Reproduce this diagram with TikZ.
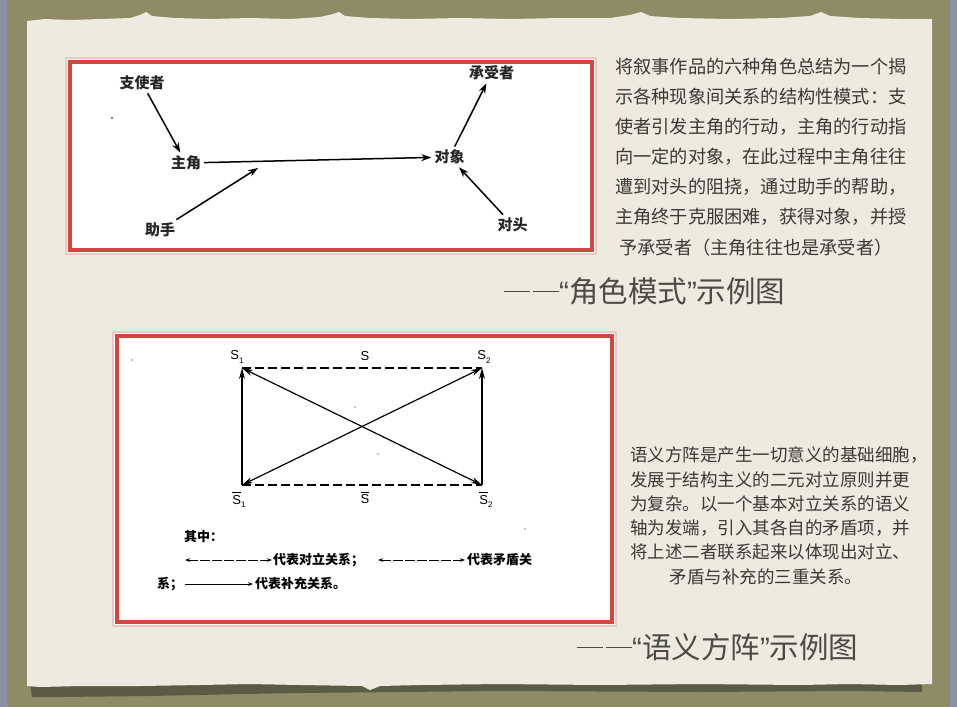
\documentclass[tikz,border=0pt]{standalone}
\usepackage{fontspec}
\newfontfamily\cjk{Noto Sans CJK SC}
\newfontfamily\lat{Liberation Sans}
\usetikzlibrary{arrows.meta}
\definecolor{oliveframe}{HTML}{8E8B66}
\definecolor{bluestrip}{HTML}{8A91A3}
\definecolor{paper}{HTML}{EDEBE0}
\definecolor{tornshadow}{HTML}{5C5B45}
\definecolor{boxred}{HTML}{D2463F}
\definecolor{boxglow}{HTML}{EEC7C0}
\definecolor{txtgray}{HTML}{3A3A34}
\definecolor{capgray}{HTML}{4C4C46}
\newcommand{\myfs}[1]{\fontsize{#1}{#1}\selectfont}
\newcommand{\Sl}[1]{{\lat S}\raisebox{-3.5pt}{\lat\myfs{8}#1}}
\newcommand{\Sbar}[1]{\rlap{\rule[11pt]{8.5pt}{0.8pt}}{\lat S}\raisebox{-3.5pt}{\lat\myfs{8}#1}}
\newcommand{\dashpair}{\rule[10pt]{26pt}{1.2pt}\hspace{3pt}\rule[10pt]{26pt}{1.2pt}}
\tikzset{
  lab1/.style={font=\cjk\bfseries\myfs{15}, text=black!85, inner sep=3pt},
  arr1/.style={line width=1.5pt, -{Stealth[length=10pt,width=7pt]}},
  slab/.style={font=\lat\myfs{13}, inner sep=1pt},
  sqarr/.style={line width=1.2pt, -{Stealth[length=11pt,width=6pt]}},
  sqdbl/.style={line width=1.2pt, {Stealth[length=11pt,width=6pt]}-{Stealth[length=11pt,width=6pt]}},
  sqdash/.style={line width=1.2pt, dash pattern=on 9pt off 4pt},
  legtxt/.style={font=\cjk\bfseries\myfs{13}, inner sep=0pt, anchor=west},
  legdash/.style={line width=0.8pt, dash pattern=on 10pt off 2pt, {Stealth[length=5pt,width=3.5pt]}-{Stealth[length=5pt,width=3.5pt]}},
  legsolid/.style={line width=0.8pt, -{Stealth[length=5pt,width=3.5pt]}},
  body/.style={font=\cjk\myfs{18.2}, text=txtgray, inner sep=0pt},
  body2/.style={font=\cjk\myfs{17.5}, text=txtgray, inner sep=0pt},
  captxt/.style={font=\cjk\myfs{29.5}, text=capgray, inner sep=0pt},
}
\begin{document}
\begin{tikzpicture}[x=1pt,y=-1pt]
\useasboundingbox (0,0) rectangle (957,707);
% background frame
\fill[oliveframe] (0,0) rectangle (957,707);
\fill[bluestrip] (0,0) rectangle (7,707);
\fill[bluestrip] (950,0) rectangle (957,707);
% torn shadow at bottom
\fill[tornshadow] (30,684) -- (922,684) -- (922,692) -- (850,691) -- (700,692) -- (500,691) -- (400,692) -- (300,693) -- (244,694) -- (150,696) -- (60,697) -- (32,697) -- cycle;
% paper
\fill[paper] (27,21) -- (45,19) -- (70,20) -- (100,19) -- (130,18) -- (140,15) -- (146,12) -- (152,16) -- (175,18) -- (210,19) -- (250,18) -- (290,19) -- (320,17) -- (333,14) -- (339,12) -- (345,16) -- (370,18) -- (410,19) -- (460,18) -- (510,19) -- (560,18) -- (610,18) -- (630,15) -- (641,12) -- (650,16) -- (680,18) -- (730,19) -- (780,18) -- (810,16) -- (821,12) -- (830,16) -- (860,18) -- (900,19) -- (932,19)
  -- (932,684) -- (900,685) -- (850,684) -- (800,685) -- (700,684) -- (600,685) -- (500,684) -- (420,685) -- (380,686) -- (370,690) -- (362,686) -- (300,685) -- (250,684) -- (200,685) -- (140,686) -- (80,686) -- (40,687) -- (27,686) -- cycle;

% ===== box 1 =====
\fill[white] (67,59) rectangle (595,253);
\draw[boxglow, line width=2pt] (66,58) rectangle (596,254);
\draw[boxred, line width=3.5pt] (70,62) rectangle (592,250);
\node[lab1] (zsz) at (142,83) {支使者};
\node[lab1] (zj) at (186,163) {主角};
\node[lab1] (dx) at (449.5,157) {对象};
\node[lab1] (csz) at (491.6,73) {承受者};
\node[lab1] (dt) at (512.6,225) {对头};
\node[lab1] (zs) at (160,230) {助手};
\coordinate (mid) at (258,168);
\draw[arr1] (zsz) -- (zj);
\draw[arr1] (zj) -- (dx);
\draw[arr1] (dx) -- (csz);
\draw[arr1] (dt) -- (dx);
\draw[arr1] (zs) -- (mid);
\fill (112,118) circle (0.8);

% ===== text 1 =====
\node[body, anchor=west] (t1a) at (615,67) {将叙事作品的六种角色总结为一个揭};
\node[body, anchor=west] (t1b) at (615,97) {示各种现象间关系的结构性模式：支};
\node[body, anchor=west] (t1c) at (615,127) {使者引发主角的行动，主角的行动指};
\node[body, anchor=west] (t1d) at (615,157) {向一定的对象，在此过程中主角往往};
\node[body, anchor=west] (t1e) at (615,187) {遭到对头的阻挠，通过助手的帮助，};
\node[body, anchor=west] (t1f) at (615,217) {主角终于克服困难，获得对象，并授};
\node[body] (t1g) at (756,248) {予承受者（主角往往也是承受者）};
\node[captxt, anchor=west] (cap1) at (504,291) {\dashpair{\lat “}角色模式{\lat ”}示例图};

% ===== box 2 =====
\fill[white] (114,333) rectangle (615,625);
\draw[boxglow, line width=2pt] (113,332) rectangle (616,626);
\draw[boxred, line width=3.5pt] (117,336) rectangle (612,622);
\coordinate (c1) at (242,368);
\coordinate (c2) at (482,368);
\coordinate (c3) at (242,485);
\coordinate (c4) at (482,485);
\node[slab] (ls1) at (237,357) {\Sl{1}};
\node[slab] (ls) at (365,356) {\lat S};
\node[slab] (ls2) at (484,357) {\Sl{2}};
\node[slab] (lb1) at (239,500) {\Sbar{1}};
\node[slab] (lb) at (365,498) {\rlap{\rule[11pt]{8.5pt}{0.8pt}}{\lat S}};
\node[slab] (lb2) at (486,500) {\Sbar{2}};
\draw[sqdash] (c1) -- (c2);
\draw[sqdash] (c3) -- (c4);
\draw[sqarr] (c3) -- (c1);
\draw[sqarr] (c4) -- (c2);
\draw[sqdbl] (c1) -- (c4);
\draw[sqdbl] (c3) -- (c2);
\fill (132,360) circle (0.7);
\fill (355,407) circle (0.6);
\fill (378,454) circle (0.7);
\fill (525,529) circle (0.6);
% legend
\node[legtxt] (qz) at (184,537) {其中：};
\coordinate (la1) at (185,560);
\coordinate (lb1e) at (272,560);
\node[legtxt] (lt1) at (273,560) {代表对立关系；};
\coordinate (la2) at (378,560);
\coordinate (lb2e) at (465,560);
\node[legtxt] (lt2) at (467,560) {代表矛盾关};
\node[legtxt] (lt3) at (157,584) {系；};
\coordinate (la3) at (185,584);
\coordinate (lb3e) at (253,584);
\node[legtxt] (lt4) at (255,584) {代表补充关系。};
\draw[legdash] (la1) -- (lb1e);
\draw[legdash] (la2) -- (lb2e);
\draw[legsolid] (la3) -- (lb3e);

% ===== text 2 =====
\node[body2, anchor=west] (t2a) at (630,455) {语义方阵是产生一切意义的基础细胞，};
\node[body2, anchor=west] (t2b) at (630,479.5) {发展于结构主义的二元对立原则并更};
\node[body2, anchor=west] (t2c) at (630,503.5) {为复杂。以一个基本对立关系的语义};
\node[body2, anchor=west] (t2d) at (630,528) {轴为发端，引入其各自的矛盾项，并};
\node[body2, anchor=west] (t2e) at (630,552) {将上述二者联系起来以体现出对立、};
\node[body2] (t2f) at (766,577) {矛盾与补充的三重关系。};
\node[captxt, anchor=west] (cap2) at (577,647) {\dashpair{\lat “}语义方阵{\lat ”}示例图};
\end{tikzpicture}
\end{document}
